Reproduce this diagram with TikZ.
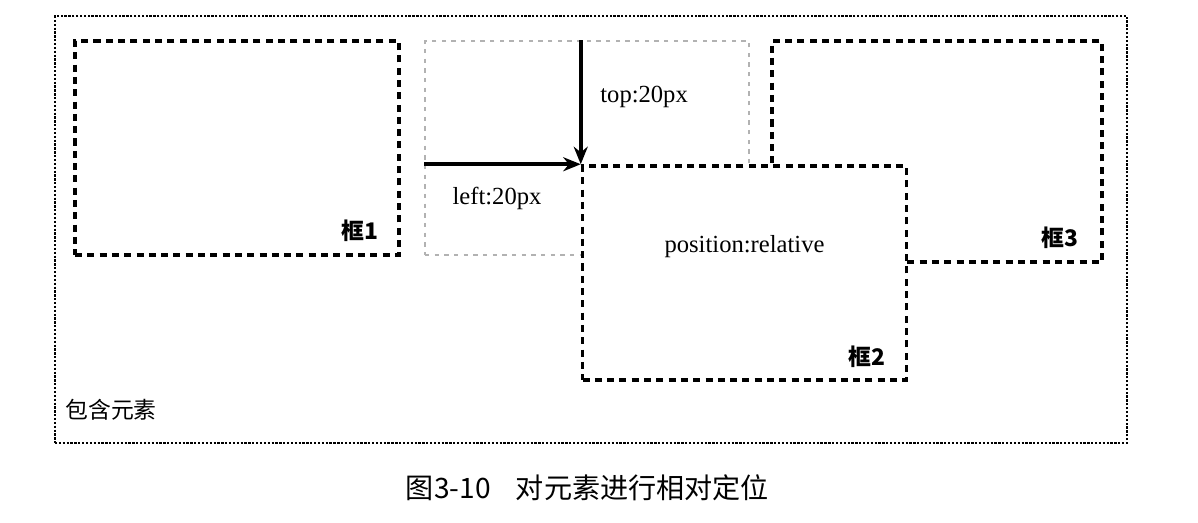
\documentclass[tikz,border=0pt]{standalone}
\usepackage{fontspec}
\setmainfont{Liberation Serif}
\newfontfamily\cjk{Noto Sans CJK SC}
\usetikzlibrary{positioning,arrows.meta}

\begin{document}
\begin{tikzpicture}[
    outer/.style={draw, line width=1.6pt, dash pattern=on 1.3pt off 0.9pt, inner sep=0pt},
    box/.style={draw, line width=2pt, dash pattern=on 4pt off 3pt, fill=white,
      minimum width=6.48cm, minimum height=4.28cm, inner sep=0pt},
    ghost/.style={draw=gray!60, line width=0.7pt, dash pattern=on 2.5pt off 3pt,
      minimum width=6.48cm, minimum height=4.28cm, inner sep=0pt},
    tag/.style={font=\cjk\fontsize{13}{15}\selectfont, inner sep=0pt},
    boxname/.style={font=\cjk\fontsize{13}{15}\selectfont\bfseries, inner sep=0pt},
    lbl/.style={font=\fontsize{14}{16}\selectfont, inner sep=0pt},
    move/.style={-{Stealth[length=10pt,width=8pt]}, line width=2.2pt}]
  \useasboundingbox (0,0) rectangle (23.96,10.44);
  \node[outer, minimum width=21.44cm, minimum height=8.54cm] (cont) at (11.82,5.85) {};
  \node[box] (box1) at (4.74,7.48) {};
  \node[ghost] (orig) at (11.74,7.48) {};
  \node[box, minimum width=6.6cm, minimum height=4.42cm] (box3) at (18.74,7.41) {};
  \node[box] (box2) at (14.89,4.98) {};
  \coordinate (vstart) at (orig.north -| box2.north west);
  \coordinate (hstart) at (orig.west |- box2.north west);
  \begin{scope}[move]
    \draw (vstart) to (box2.north west);
    \draw (hstart) to (box2.north west);
  \end{scope}
  \node[boxname, above left=0.3cm and 0.44cm of box1.south east] (name1) {框1};
  \node[boxname, above left=0.28cm and 0.46cm of box2.south east] (name2) {框2};
  \node[boxname, above left=0.3cm and 0.5cm of box3.south east] (name3) {框3};
  \node[lbl] (rel) at ([yshift=0.52cm]box2.center) {position:relative};
  \node[lbl, anchor=west] (top) at (12.0,8.5) {top:20px};
  \node[lbl] (left) at (9.94,6.48) {left:20px};
  \node[tag, anchor=west] (contname) at (1.3,2.24) {包含元素};
  \node[font=\cjk\fontsize{16}{18}\selectfont] (caption) at (11.75,0.68) {图3-10\hspace{0.9em}对元素进行相对定位};
\end{tikzpicture}
\end{document}
